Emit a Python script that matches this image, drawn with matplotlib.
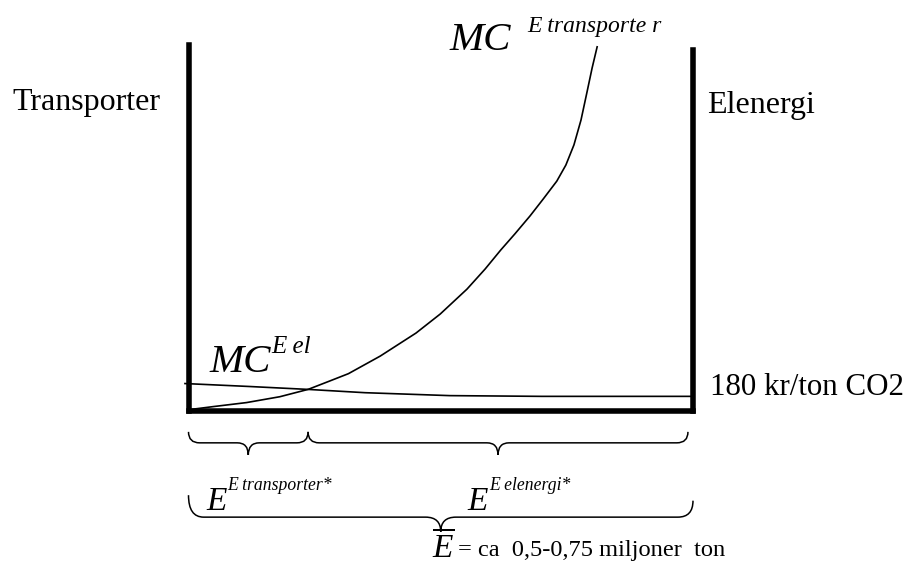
import matplotlib
matplotlib.use("Agg")
import matplotlib.pyplot as plt
from matplotlib.path import Path
from matplotlib.patches import PathPatch

plt.rcParams['font.family'] = ['Liberation Serif', 'DejaVu Serif']
plt.rcParams['mathtext.fontset'] = 'custom'
plt.rcParams['mathtext.it'] = 'Liberation Serif:italic'
plt.rcParams['mathtext.rm'] = 'Liberation Serif'

# ---- data (quantity 0..100 = E-bar, cost 0..100 = top of box) ----
mc_transport_q = [0.3, 4.9, 11.5, 18.1, 23.7, 28.0, 31.7, 38.0, 45.1, 49.9, 55.2,
                  58.8, 61.9, 64.7, 67.7, 70.3, 73.0, 74.8, 76.4, 77.8, 79.0, 80.0, 81.0]
mc_transport_cost = [0.4, 1.2, 2.3, 3.9, 5.9, 8.2, 10.2, 15.0, 21.3, 26.5, 33.3,
                     38.8, 44.0, 48.4, 53.3, 57.9, 62.8, 67.2, 72.7, 79.5, 87.2, 93.7, 99.5]
mc_el_q = [-0.7, 12.0, 23.7, 35.0, 51.8, 70.0, 99.8]
mc_el_cost = [7.5, 6.7, 5.9, 5.0, 4.2, 4.0, 4.0]
e_transport_star = 23.7
e_total = 99.0

W, H = 909, 583
fig = plt.figure(figsize=(W / 100, H / 100), dpi=100)

def fx(px):
    return px / W

def fy(py):
    return 1 - py / H

ax_l, ax_r, ax_b, ax_t = 188.5, 693.0, 411.0, 45.0
ax = fig.add_axes([fx(ax_l), fy(ax_b), (ax_r - ax_l) / W, (ax_b - ax_t) / H])
ax.set_xlim(0, 100)
ax.set_ylim(0, 100)
ax.set_xticks([])
ax.set_yticks([])
ax.patch.set_visible(False)
ax.spines['top'].set_visible(False)
for s in ['left', 'right', 'bottom']:
    ax.spines[s].set_linewidth(4.0)
    ax.spines[s].set_color('black')
ax.spines['right'].set_bounds(0, 98.6)

ax.plot(mc_transport_q, mc_transport_cost, color='black', lw=1.2, clip_on=False,
        solid_joinstyle='round')
ax.plot(mc_el_q, mc_el_cost, color='black', lw=1.2, clip_on=False)


def brace(x0, x1, ytop_l, ytop_r, yflat, ytip, d=2.2):
    xm = (x0 + x1) / 2
    verts = [(x0, ytop_l), (x0, yflat), (x0 + d, yflat), (xm - d, yflat),
             (xm, yflat), (xm, ytip),
             (xm, yflat), (xm + d, yflat), (x1 - d, yflat),
             (x1, yflat), (x1, ytop_r)]
    codes = [Path.MOVETO, Path.CURVE3, Path.CURVE3, Path.LINETO,
             Path.CURVE3, Path.CURVE3,
             Path.CURVE3, Path.CURVE3, Path.LINETO,
             Path.CURVE3, Path.CURVE3]
    ax.add_patch(PathPatch(Path(verts, codes), fill=False, lw=1.1,
                           edgecolor='black', clip_on=False))

brace(0, e_transport_star, -5.7, -5.7, -8.7, -12.0)
brace(e_transport_star, e_total, -5.7, -5.7, -8.7, -12.0)
brace(0, 100, -23.0, -24.5, -29.0, -33.0, d=3.0)

# ---- text ----
fs_big = 23
fig.text(fx(12), fy(110), 'Transporter', fontsize=fs_big, va='baseline', ha='left')
fig.text(fx(707), fy(113), 'Elenergi', fontsize=fs_big, va='baseline', ha='left')
fig.text(fx(710), fy(395), '180 kr/ton CO2', fontsize=22.3, va='baseline', ha='left')

fig.text(fx(449), fy(50), 'MC', fontsize=29.5, style='italic', va='baseline', ha='left')
fig.text(fx(527), fy(32), 'E transporte r', fontsize=17, style='italic', va='baseline', ha='left')

fig.text(fx(209), fy(372), 'MC', fontsize=29.5, style='italic', va='baseline', ha='left')
fig.text(fx(271), fy(353), 'E el', fontsize=18, style='italic', va='baseline', ha='left')

fig.text(fx(206), fy(510), 'E', fontsize=24, style='italic', va='baseline', ha='left')
fig.text(fx(227), fy(490), 'E transporter*', fontsize=12.7, style='italic', va='baseline', ha='left')
fig.text(fx(467), fy(510), 'E', fontsize=24, style='italic', va='baseline', ha='left')
fig.text(fx(489), fy(490), 'E elenergi*', fontsize=12.7, style='italic', va='baseline', ha='left')

fig.text(fx(432), fy(557), r'$\overline{E}$', fontsize=24, va='baseline', ha='left')
fig.text(fx(458), fy(556), '= ca  0,5-0,75 miljoner  ton', fontsize=17.6, va='baseline', ha='left')

fig.savefig('out.png', dpi=100)
